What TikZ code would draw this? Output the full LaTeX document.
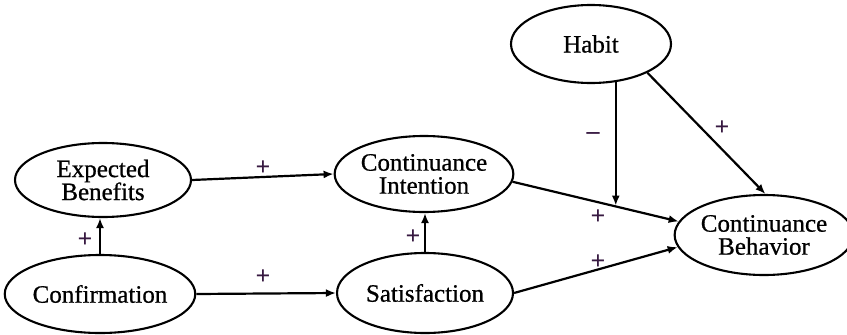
\documentclass[tikz,border=0pt]{standalone}
\usepackage{fontspec}
\setmainfont{Liberation Serif}
\newfontfamily\labelfont[FakeBold=0.7]{Liberation Serif}
\usetikzlibrary{shapes.geometric,arrows.meta}
\definecolor{signcol}{RGB}{55,25,65}
\begin{document}
\begin{tikzpicture}[x=1pt,y=-1pt,
  construct/.style={draw,ellipse,line width=2.1pt,inner sep=0pt,align=center,
    font=\labelfont\fontsize{25}{23}\selectfont},
  arr/.style={line width=2.2pt,-{Latex[length=10pt,width=8pt]}},
  sign/.style={text=signcol,font=\fontsize{26}{26}\selectfont\bfseries}]
\useasboundingbox (0,0) rectangle (847,335);
\node[construct,minimum width=176pt,minimum height=74pt] (eb) at (103,180) {Expected\\Benefits};
\node[construct,minimum width=176pt,minimum height=78pt] (conf) at (100,294) {Confirmation};
\node[construct,minimum width=176pt,minimum height=76pt] (ci) at (424,174) {Continuance\\Intention};
\node[construct,minimum width=176pt,minimum height=80pt] (sat) at (425,293) {Satisfaction};
\node[construct,minimum width=160pt,minimum height=78pt] (habit) at (591,44) {Habit};
\node[construct,minimum width=162pt,minimum height=80pt] (cb) at (764,235) {Continuance\\Behavior};
\draw[arr] (conf.north) -- (conf.north |- eb.south);
\draw[arr] (eb.east) -- (ci.west);
\draw[arr] (conf.east) -- (sat.west);
\draw[arr] (sat.north) -- (sat.north |- ci.south);
\draw[arr] (ci.-5) -- (cb.171) coordinate[pos=0.6] (m);
\draw[arr] (sat.east) -- (cb.188);
\draw[arr] (habit.-57) -- (habit.-57 |- m);
\draw[arr] (habit.-27) -- (cb.88);
\node[sign] (s1) at (85,240) {+};
\node[sign] (s2) at (263,168) {+};
\node[sign] (s3) at (263,277) {+};
\node[sign] (s4) at (413,237) {+};
\node[sign] (s5) at (598,217) {+};
\node[sign] (s6) at (598,262) {+};
\node[sign] (s7) at (722,128) {+};
\node[sign] (s8) at (593,136) {–};
\end{tikzpicture}
\end{document}
